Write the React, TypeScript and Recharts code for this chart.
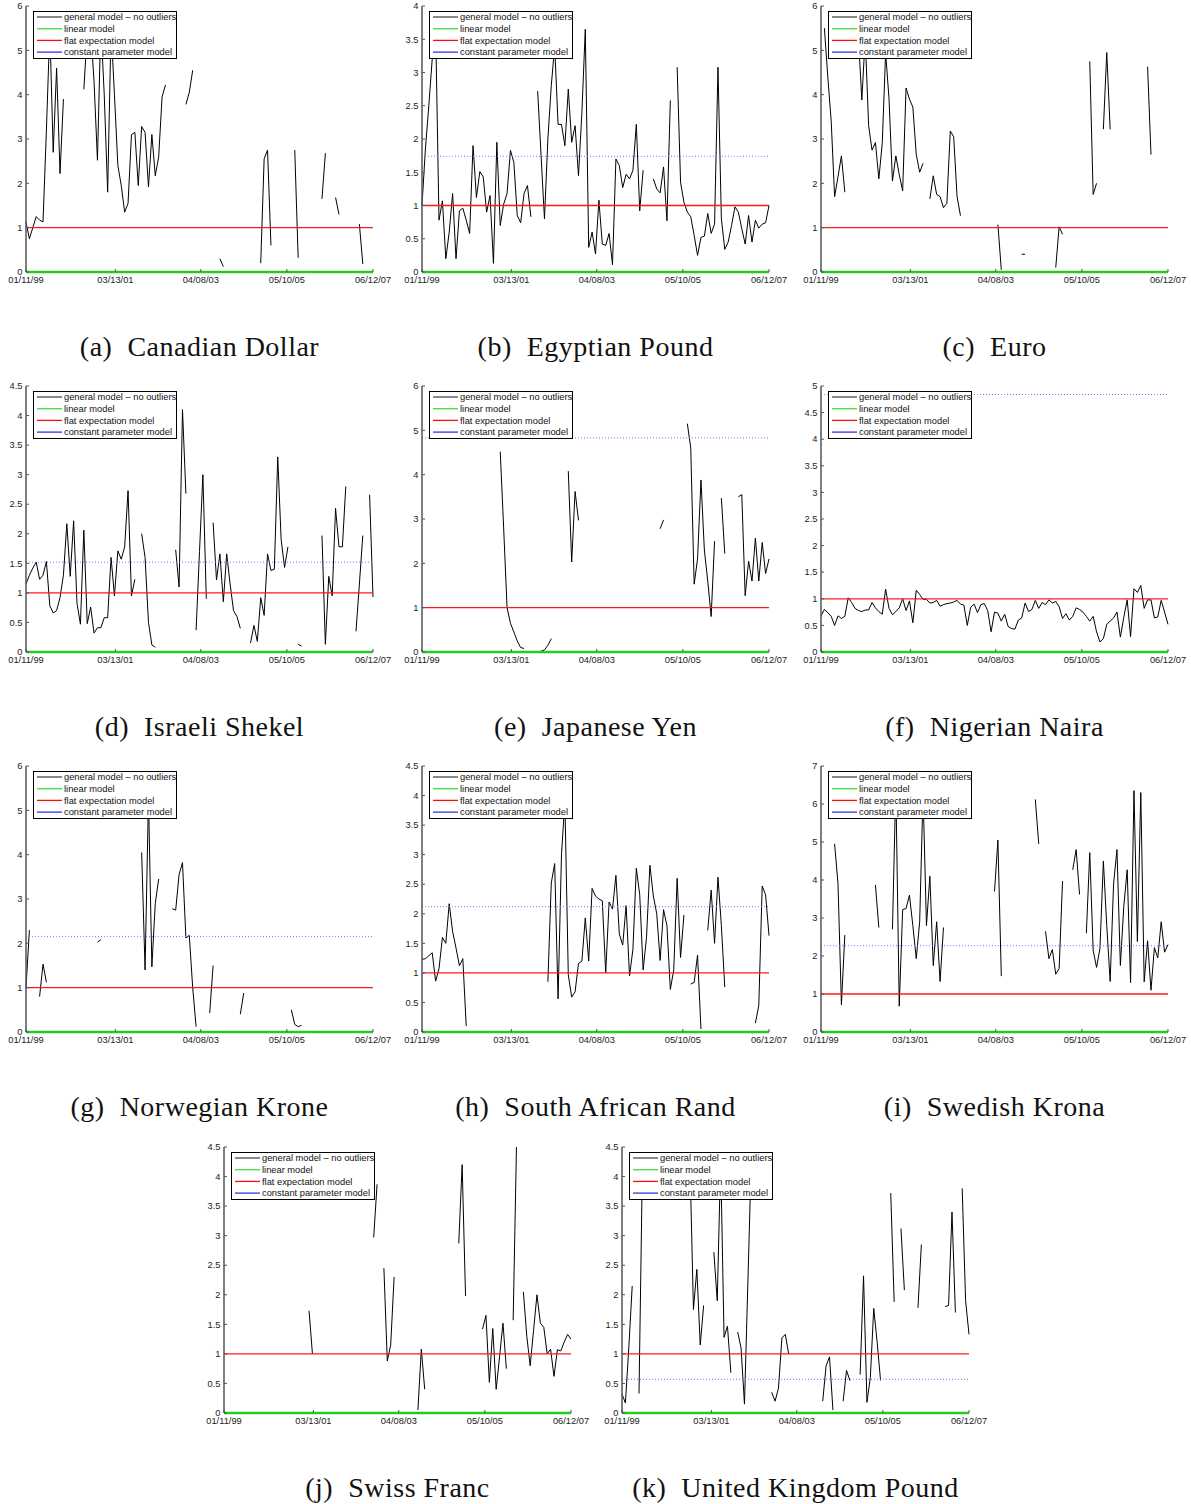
import { LineChart, Line, XAxis, YAxis, Legend } from "recharts";

// monthly observations, 01/11/99 .. 06/12/07
const N_PERIODS = 103;
const SPAN_DAYS = 3074;
const TICK_DAYS = [0, 792, 1548, 2311, 3074];
const TICK_LABELS = ["01/11/99", "03/13/01", "04/08/03", "05/10/05", "06/12/07"];

const Y_TICKS_4 = [0, 0.5, 1, 1.5, 2, 2.5, 3, 3.5, 4];
const Y_TICKS_45 = [0, 0.5, 1, 1.5, 2, 2.5, 3, 3.5, 4, 4.5];
const Y_TICKS_5 = [0, 0.5, 1, 1.5, 2, 2.5, 3, 3.5, 4, 4.5, 5];
const Y_TICKS_6 = [0, 1, 2, 3, 4, 5, 6];
const Y_TICKS_7 = [0, 1, 2, 3, 4, 5, 6, 7];

const LINEAR_MODEL = 0;
const FLAT_MODEL = 1;

const LEGEND_NAMES = [
  "general model \u2013 no outliers",
  "linear model",
  "flat expectation model",
  "constant parameter model",
];
const LEGEND_COLORS = ["#4a4a4a", "#3ee03e", "#ee1111", "#3535e8"];

// [first period index, values]; periods not listed are missing
type Segment = [number, (number | null)[]];

const CAD: Segment[] = [
  [0, [1.13, 0.75, 1.0, 1.25, 1.17, 1.13, 3.2, 5.5, 2.7, 4.6, 2.22, 3.9]],
  [17, [4.12, 5.4, 5.5, 4.3, 2.52, 5.6, 4.0, 1.8, 5.5, 4.0, 2.4, 1.95, 1.35, 1.55, 3.1, 3.15, 1.95, 3.28, 3.15, 1.92, 3.1, 2.17, 2.6, 3.95, 4.22]],
  [47, [3.78, 4.05, 4.55]],
  [52, [2.7]],
  [57, [0.3, 0.12]],
  [69, [0.2, 2.55, 2.75, 0.6]],
  [75, [1.65]],
  [79, [2.75, 0.32]],
  [82, [0.7]],
  [84, [1.02]],
  [87, [1.65, 2.68]],
  [91, [1.68, 1.3]],
  [98, [1.08, 0.18]],
  [102, [5.12]],
];

const EGP: Segment[] = [
  [0, [1.0, 1.85, 2.5, 3.2, 3.7, 0.78, 1.07, 0.2, 0.6, 1.18, 0.2, 0.92, 0.96, 0.78, 0.58, 1.9, 1.12, 1.51, 1.43, 0.9, 1.15, 0.13, 1.95, 0.7, 1.02, 1.18, 1.83, 1.65, 0.85, 0.74, 1.18, 1.3, 0.83]],
  [34, [2.72, 1.75, 0.8, 2.0, 2.8, 3.4, 2.22, 2.22, 1.9, 2.75, 1.95, 2.2, 1.45, 2.4, 3.65, 0.37, 0.6, 0.27, 1.08, 0.42, 0.4, 0.58, 0.11, 1.7, 1.6, 1.27, 1.47, 1.4, 1.53, 2.22, 0.92, 1.53]],
  [68, [1.4, 1.25, 1.19, 1.58, 0.77, 2.58]],
  [75, [3.08, 1.35, 1.05, 0.9, 0.83, 0.55, 0.25, 0.52, 0.54, 0.88, 0.58, 0.72, 3.08, 0.8, 0.34, 0.45, 0.7, 0.98, 0.9, 0.65, 0.42, 0.85, 0.45, 0.78, 0.66, 0.72, 0.74, 1.0]],
];

const EUR: Segment[] = [
  [1, [5.5, 4.4, 3.4, 1.7, 2.15, 2.62, 1.8]],
  [9, [2.62]],
  [11, [5.3, 3.88, 5.3, 3.3, 2.75, 2.92, 2.1, 2.9, 4.95, 3.9, 2.05, 2.62, 2.2, 1.83, 4.15, 3.9, 3.72, 2.65, 2.25, 2.45]],
  [32, [1.65, 2.17, 1.75, 1.7, 1.45, 1.55, 3.18, 3.05, 1.7, 1.27]],
  [47, [0.97]],
  [52, [1.07, 0.05]],
  [59, [0.4, 0.4]],
  [69, [0.1, 1.02, 0.85]],
  [75, [0.9]],
  [79, [4.75, 1.75, 2.0]],
  [83, [3.22, 4.95, 3.22]],
  [96, [4.63, 2.65]],
  [99, [4.98]],
  [101, [1.37]],
];

const ILS: Segment[] = [
  [0, [1.15, 1.3, 1.42, 1.52, 1.23, 1.3, 1.53, 0.78, 0.66, 0.7, 0.92, 1.3, 2.17, 1.28, 2.22, 0.82, 0.47, 2.06, 0.48, 0.76, 0.32, 0.41, 0.41, 0.58, 0.58, 1.6, 0.95, 1.71, 1.57, 1.78, 2.73, 0.95, 1.23]],
  [34, [2.0, 1.6, 0.5, 0.12, 0.08]],
  [42, [0.55]],
  [44, [1.73, 1.1, 4.1, 2.68]],
  [50, [0.37, 1.7, 3.0, 0.9]],
  [55, [2.19, 1.22, 1.66, 0.85, 1.66, 1.15, 0.7, 0.6, 0.4]],
  [66, [0.15, 0.45, 0.18, 0.92, 0.62, 1.66, 1.38, 1.4, 3.3, 1.9, 1.43, 1.78]],
  [80, [0.13, 0.1]],
  [87, [1.97, 0.13, 1.28, 0.95, 2.43, 1.78, 1.78, 2.8]],
  [97, [0.35, 1.15, 1.97]],
  [101, [2.66, 0.93]],
];

const JPY: Segment[] = [
  [6, [0.25]],
  [12, [1.25]],
  [23, [4.52, 2.8, 1.0, 0.65, 0.45, 0.25, 0.1, 0.08]],
  [35, [0.02, 0.05, 0.15, 0.3]],
  [43, [4.08, 2.03, 3.62, 2.97]],
  [48, [0.57]],
  [70, [2.78, 2.98]],
  [78, [5.15, 4.6, 1.53, 2.1, 3.88, 2.3, 1.6, 0.8, 2.5]],
  [88, [3.47, 2.22]],
  [91, [5.2]],
  [93, [3.5, 3.55, 1.27, 2.05, 1.6, 2.57, 1.6, 2.47, 1.77, 2.1]],
];

const NGN: Segment[] = [
  [0, [
    0.68, 0.8, 0.74, 0.67, 0.5, 0.68, 0.63, 0.67, 1.02, 0.93,
    0.82, 0.78, 0.76, 0.79, 0.79, 0.93, 0.83, 0.76, 0.71, 1.18,
    0.82, 0.7, 0.76, 0.83, 1.0, 0.78, 0.96, 0.55, 1.16, 1.08,
    0.99, 0.99, 0.92, 0.93, 0.97, 0.86, 0.89, 0.91, 0.92, 0.94,
    0.97, 0.9, 0.88, 0.5, 0.84, 0.9, 0.74, 0.89, 0.91, 0.78,
    0.38, 0.75, 0.73, 0.58, 0.71, 0.48, 0.44, 0.43, 0.6, 0.64,
    0.92, 0.76, 0.8, 0.97, 0.82, 0.93, 0.89, 0.98, 0.92, 0.95,
    0.85, 0.63, 0.72, 0.6, 0.67, 0.83, 0.8, 0.75, 0.67, 0.58,
    0.67, 0.38, 0.19, 0.25, 0.52, 0.58, 0.64, 0.75, 0.28, 0.65,
    0.98, 0.29, 1.19, 1.12, 1.25, 0.82, 0.98, 0.98, 0.64, 0.66,
    0.97, 0.75, 0.52,
  ]],
];

const NOK: Segment[] = [
  [0, [1.0, 2.3]],
  [4, [0.8, 1.53, 1.12]],
  [8, [1.07]],
  [13, [2.55]],
  [16, [1.2]],
  [21, [2.03, 2.08]],
  [34, [4.05, 1.4, 5.3, 1.47, 2.9, 3.45]],
  [43, [2.78, 2.75, 3.55, 3.82, 2.12, 2.18, 1.0, 0.12]],
  [54, [0.43, 1.5]],
  [59, [1.1]],
  [63, [0.4, 0.88]],
  [78, [0.5, 0.17, 0.12, 0.15]],
  [83, [0.1]],
  [94, [5.0]],
];

const ZAR: Segment[] = [
  [0, [1.23, 1.24, 1.29, 1.34, 0.86, 1.07, 1.6, 1.5, 2.17, 1.7, 1.42, 1.12, 1.24, 0.1]],
  [29, [0.03]],
  [37, [0.85, 2.52, 2.85, 0.56, 3.0, 3.9, 0.97, 0.59, 0.68, 1.16, 1.2, 1.93, 1.2, 2.43, 2.3, 2.25, 2.22, 1.0, 2.2, 2.08, 2.65, 1.66, 1.47, 2.14, 0.95, 1.4, 2.77, 2.32, 1.05, 1.6, 2.82, 2.3, 2.0, 1.21, 2.07, 1.8, 0.72, 1.05, 2.6, 1.26, 1.98]],
  [79, [0.81, 0.84, 1.3, 0.05]],
  [84, [1.72, 2.4, 1.5, 2.62, 1.8, 0.76]],
  [92, [1.15]],
  [98, [0.15, 0.45, 2.47, 2.32, 1.63]],
];

const SEK: Segment[] = [
  [4, [4.95, 3.9, 0.72, 2.55]],
  [11, [3.93]],
  [14, [3.4]],
  [16, [3.87, 2.75]],
  [19, [2.13]],
  [21, [2.7, 6.5, 0.68, 3.22, 3.25, 3.6, 2.8, 1.93, 2.9, 6.3, 2.8, 4.1, 1.75, 2.9, 1.33, 2.75]],
  [38, [5.0]],
  [44, [5.55]],
  [46, [3.07]],
  [51, [3.7, 5.05, 1.47]],
  [59, [2.38]],
  [61, [5.6]],
  [63, [6.12, 4.95]],
  [66, [2.65, 1.93, 2.17, 1.52, 1.67, 3.97]],
  [74, [4.27, 4.8, 3.62]],
  [78, [2.6, 4.72, 2.15, 1.7, 2.2, 4.5, 2.8, 1.33, 3.9, 4.8, 1.75, 3.3, 4.27, 1.3, 6.35, 2.38, 6.3, 1.32, 2.4, 1.1, 2.22, 1.95, 2.9, 2.1, 2.3]],
];

const CHF: Segment[] = [
  [3, [0.5]],
  [17, [2.38]],
  [19, [1.68]],
  [25, [1.73, 1.0]],
  [44, [2.97, 3.87]],
  [47, [2.45, 0.88, 1.15, 2.3]],
  [53, [0.18]],
  [57, [0.05, 1.08, 0.4]],
  [62, [3.84]],
  [64, [4.17]],
  [69, [2.87, 4.2, 1.98]],
  [76, [1.42, 1.65, 0.52, 1.43, 0.4, 0.95, 1.52, 0.75]],
  [85, [1.57, 4.6]],
  [88, [2.05, 1.3, 0.8, 1.4, 2.0, 1.52, 1.45, 1.0, 1.08, 0.62, 1.07, 1.05, 1.2, 1.33, 1.25]],
];

const GBP: Segment[] = [
  [0, [0.32, 0.17, 1.1, 2.15]],
  [5, [0.33, 4.2]],
  [9, [0.07]],
  [20, [4.2, 1.75, 2.43, 1.15, 1.82]],
  [27, [2.72, 1.9, 4.3, 1.28, 1.47, 0.68]],
  [34, [1.37, 1.1, 0.15, 2.2, 4.3]],
  [42, [0.33]],
  [44, [0.35, 0.2, 0.42, 1.27, 1.33, 1.0]],
  [59, [0.2, 0.8, 0.95, 0.05]],
  [65, [0.2, 0.72, 0.55]],
  [70, [0.65, 2.32, 0.18, 0.6, 1.77, 1.2, 0.55]],
  [79, [3.72, 1.88]],
  [82, [3.12, 2.08]],
  [85, [1.25]],
  [87, [1.78, 2.85]],
  [95, [1.8, 1.82, 3.4, 1.7]],
  [100, [3.8, 1.9, 1.33]],
];

const PANEL_IDS = ["a", "b", "c", "d", "e", "f", "g", "h", "i", "j", "k"];
const PANEL_NAMES = [
  "Canadian Dollar", "Egyptian Pound", "Euro", "Israeli Shekel", "Japanese Yen",
  "Nigerian Naira", "Norwegian Krone", "South African Rand", "Swedish Krona",
  "Swiss Franc", "United Kingdom Pound",
];
const PANEL_SERIES = [CAD, EGP, EUR, ILS, JPY, NGN, NOK, ZAR, SEK, CHF, GBP];
// constant parameter model level (null where it is not visible in the axes)
const CONSTANT_LEVELS = [null, 1.74, null, 1.52, 4.83, 4.84, 2.15, 2.12, 2.27, null, 0.57];
const PANEL_Y_TICKS = [
  Y_TICKS_6, Y_TICKS_4, Y_TICKS_6, Y_TICKS_45, Y_TICKS_6, Y_TICKS_5,
  Y_TICKS_6, Y_TICKS_45, Y_TICKS_7, Y_TICKS_45, Y_TICKS_45,
];

// plot-area top-left corner of every panel on the page
const PANEL_POS = [
  [26, 6], [422, 6], [821, 6],
  [26, 386], [422, 386], [821, 386],
  [26, 766], [422, 766], [821, 766],
  [224, 1147], [622, 1147],
];

const PLOT_W = 347;
const PLOT_H = 266;
const AXIS_W = 26;
const PAD_TOP = 6;
const PAD_RIGHT = 22;
const X_AXIS_H = 20;

const SANS = "'Liberation Sans', Arial, Helvetica, sans-serif";
const SERIF = "'Liberation Serif', 'Times New Roman', serif";

function expand(segments: Segment[]) {
  const out: (number | null)[] = Array(N_PERIODS).fill(null);
  segments.forEach(([start, vals]) => {
    vals.forEach((v, k) => {
      out[start + k] = v;
    });
  });
  return out;
}

function buildRows(segments: Segment[], level: number | null) {
  return expand(segments).map((g, i) => ({
    day: (i * SPAN_DAYS) / (N_PERIODS - 1),
    general: g,
    linear: LINEAR_MODEL,
    flat: FLAT_MODEL,
    constant: level,
  }));
}

const XTick = (props: any) => {
  const { x, y, payload } = props;
  const label = TICK_LABELS[TICK_DAYS.indexOf(payload.value)];
  return (
    <g>
      <line x1={x} x2={x} y1={y} y2={y - 3} stroke="#555" strokeWidth={1} />
      <text x={x} y={y + 11} textAnchor="middle" fontSize={9.3} fontFamily={SANS} fill="#222">
        {label}
      </text>
    </g>
  );
};

const YTick = (props: any) => {
  const { x, y, payload } = props;
  return (
    <g>
      <line x1={x} x2={x + 3} y1={y} y2={y} stroke="#555" strokeWidth={1} />
      <text x={x - 3.5} y={y} dy="0.35em" textAnchor="end" fontSize={9.3} fontFamily={SANS} fill="#222">
        {payload.value}
      </text>
    </g>
  );
};

const LegendBox = () => (
  <div
    style={{
      width: 144,
      height: 48,
      border: "1.3px solid #000",
      background: "#fff",
      boxSizing: "border-box",
    }}
  >
    <svg width={142} height={46} style={{ display: "block" }}>
      {LEGEND_NAMES.map((name, k) => {
        const cy = 5 + k * 11.7;
        return (
          <g key={name}>
            <line x1={3} x2={28} y1={cy} y2={cy} stroke={LEGEND_COLORS[k]} strokeWidth={1.3} />
            <text x={30} y={cy} dy="0.35em" fontSize={9.3} fontFamily={SANS} fill="#111">
              {name}
            </text>
          </g>
        );
      })}
    </svg>
  </div>
);

function Panel({ p }: { p: number }) {
  const [plotLeft, plotTop] = PANEL_POS[p];
  const ticks = PANEL_Y_TICKS[p];
  const yMax = ticks[ticks.length - 1];
  const rows = buildRows(PANEL_SERIES[p], CONSTANT_LEVELS[p]);

  return (
    <>
      <div style={{ position: "absolute", left: plotLeft - AXIS_W, top: plotTop - PAD_TOP }}>
        <LineChart
          width={AXIS_W + PLOT_W + PAD_RIGHT}
          height={PAD_TOP + PLOT_H + X_AXIS_H}
          data={rows}
          margin={{ top: PAD_TOP, right: PAD_RIGHT, bottom: 0, left: 0 }}
        >
          <XAxis
            dataKey="day"
            type="number"
            domain={[0, SPAN_DAYS]}
            ticks={TICK_DAYS}
            interval={0}
            height={X_AXIS_H}
            tickSize={0}
            tickMargin={0}
            tickLine={false}
            tick={<XTick />}
            axisLine={false}
          />
          <YAxis
            yAxisId="main"
            type="number"
            width={AXIS_W}
            domain={[0, yMax]}
            ticks={ticks}
            interval={0}
            tickSize={0}
            tickMargin={0}
            tickLine={false}
            tick={<YTick />}
            axisLine={{ stroke: "#555", strokeWidth: 1.5 }}
          />
          <YAxis yAxisId="clip" type="number" width={0} domain={[0, yMax]} allowDataOverflow hide />
          <Line
            yAxisId="clip"
            dataKey="general"
            name={LEGEND_NAMES[0]}
            stroke="#000"
            strokeWidth={1}
            dot={false}
            connectNulls={false}
            isAnimationActive={false}
          />
          <Line
            yAxisId="main"
            dataKey="linear"
            name={LEGEND_NAMES[1]}
            stroke="#22cc22"
            strokeWidth={2.4}
            dot={false}
            isAnimationActive={false}
          />
          <Line
            yAxisId="main"
            dataKey="flat"
            name={LEGEND_NAMES[2]}
            stroke="#ff1a1a"
            strokeWidth={1.3}
            dot={false}
            isAnimationActive={false}
          />
          <Line
            yAxisId="main"
            dataKey="constant"
            name={LEGEND_NAMES[3]}
            stroke="#6f6fff"
            strokeWidth={1}
            strokeDasharray="1 2"
            dot={false}
            isAnimationActive={false}
          />
          <Legend
            layout="horizontal"
            verticalAlign="middle"
            align="center"
            content={() => <LegendBox />}
            wrapperStyle={{ left: AXIS_W + 6.5, top: PAD_TOP + 5, width: 144, height: 48 }}
          />
        </LineChart>
      </div>
      <div
        style={{
          position: "absolute",
          left: plotLeft + PLOT_W / 2 - 200,
          top: plotTop + PLOT_H + 60,
          width: 400,
          lineHeight: "30px",
          textAlign: "center",
          fontFamily: SERIF,
          fontSize: 28,
          letterSpacing: 0.5,
          color: "#111",
          whiteSpace: "nowrap",
        }}
      >
        ({PANEL_IDS[p]})&nbsp; {PANEL_NAMES[p]}
      </div>
    </>
  );
}

export default function App() {
  return (
    <div
      style={{
        position: "absolute",
        left: 0,
        top: 0,
        width: 1191,
        height: 1504,
        background: "#fff",
        overflow: "hidden",
      }}
    >
      {PANEL_NAMES.map((name, p) => (
        <Panel key={name} p={p} />
      ))}
    </div>
  );
}
